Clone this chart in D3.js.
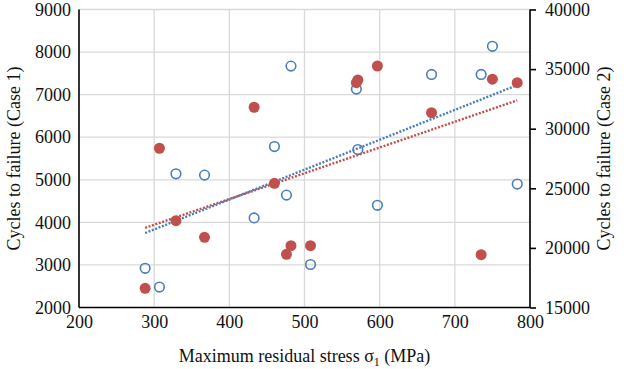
<!DOCTYPE html>
<html lang="en">
<head>
    <meta charset="UTF-8">
    <script src="https://cdn.jsdelivr.net/npm/d3@7"></script>
    <title>Cycles to failure</title>
    <style>
        body { margin: 0; background: #fff; }
        svg text { font-family: "Liberation Serif", "Times New Roman", serif !important; fill: #111; }
    </style>
</head>
<body>
<script>
    // stress values (MPa), shared by both cases
    const stress = [288, 307, 329, 367, 433, 460, 476, 482, 508, 569, 571, 597, 669, 735, 750, 783];
    // case 1 (left axis)
    const case1 = [2920, 2480, 5140, 5110, 4105, 5780, 4640, 7670, 3010, 7130, 5710, 4400, 7475, 7475, 8135, 4900];
    // case 2 (right axis)
    const case2 = [16610, 28360, 22280, 20890, 31800, 25420, 19460, 20190, 20190, 33860, 34090, 35260, 31340, 19430, 34150, 33860];

    const xTicks = [200, 300, 400, 500, 600, 700, 800];
    const yTicks1 = [2000, 3000, 4000, 5000, 6000, 7000, 8000, 9000];
    const yTicks2 = [15000, 20000, 25000, 30000, 35000, 40000];

    const width = 624, height = 369;
    const pLeft = 79, pRight = 530, pTop = 9.5, pBottom = 307.5;
    const blue = "#4a7ebb", red = "#c0504d";
    const serif = "'Liberation Serif', 'Times New Roman', serif";

    const svg = d3.select("body").append("svg")
        .attr("width", width)
        .attr("height", height)
        .style("font-family", serif);

    const x = d3.scaleLinear().domain([200, 800]).range([pLeft, pRight]);
    const y1 = d3.scaleLinear().domain([2000, 9000]).range([pBottom, pTop]);
    const y2 = d3.scaleLinear().domain([15000, 40000]).range([pBottom, pTop]);

    // grid
    svg.append("g").selectAll("line")
        .data(xTicks.slice(1))
        .enter().append("line")
        .attr("x1", d => x(d)).attr("x2", d => x(d))
        .attr("y1", pTop).attr("y2", pBottom)
        .attr("stroke", "#d9d9d9").attr("stroke-width", 1.3);
    svg.append("g").selectAll("line")
        .data(yTicks1.slice(1))
        .enter().append("line")
        .attr("x1", pLeft).attr("x2", pRight)
        .attr("y1", d => y1(d)).attr("y2", d => y1(d))
        .attr("stroke", "#d9d9d9").attr("stroke-width", 1.3);

    // axes
    const axisLeft = svg.append("g")
        .attr("transform", "translate(" + pLeft + ",0)")
        .call(d3.axisLeft(y1).tickValues(yTicks1).tickSize(0).tickPadding(8).tickFormat(d3.format("d")));
    const axisRight = svg.append("g")
        .attr("transform", "translate(" + pRight + ",0)")
        .call(d3.axisRight(y2).tickValues(yTicks2).tickSize(6).tickPadding(9).tickFormat(d3.format("d")));
    const axisBottom = svg.append("g")
        .attr("transform", "translate(0," + pBottom + ")")
        .call(d3.axisBottom(x).tickValues(xTicks).tickSize(0).tickPadding(8).tickFormat(d3.format("d")));

    [axisLeft, axisRight, axisBottom].forEach(g => {
        g.attr("font-family", null).attr("font-size", null);
        g.select(".domain").attr("stroke", "#000").attr("stroke-width", 1.6);
        g.selectAll(".tick line").attr("stroke", "#000").attr("stroke-width", 1.6);
        g.selectAll("text").style("font-size", "18px").style("font-family", serif).attr("fill", "#111");
    });
    axisLeft.select(".domain").attr("d", "M0," + pTop + "V" + pBottom);
    axisRight.select(".domain").attr("d", "M0," + pTop + "V" + pBottom);
    axisBottom.select(".domain").attr("d", "M" + pLeft + ",0H" + pRight);

    // linear trend lines
    function fit(xs, ys) {
        const mx = d3.mean(xs), my = d3.mean(ys);
        let sxy = 0, sxx = 0;
        xs.forEach((v, i) => { sxy += (v - mx) * (ys[i] - my); sxx += (v - mx) * (v - mx); });
        const b = sxy / sxx;
        return v => my + b * (v - mx);
    }
    const xExt = d3.extent(stress);
    const f1 = fit(stress, case1), f2 = fit(stress, case2);

    // blue points
    svg.append("g").selectAll("circle")
        .data(stress)
        .enter().append("circle")
        .attr("cx", d => x(d))
        .attr("cy", (d, i) => y1(case1[i]))
        .attr("r", 4.8)
        .attr("fill", "none")
        .attr("stroke", blue)
        .attr("stroke-width", 1.6);

    svg.append("line")
        .attr("x1", x(xExt[0])).attr("x2", x(xExt[1]))
        .attr("y1", y2(f2(xExt[0]))).attr("y2", y2(f2(xExt[1])))
        .attr("stroke", red).attr("stroke-width", 2.4)
        .attr("stroke-dasharray", "2,1.6");
    svg.append("line")
        .attr("x1", x(xExt[0])).attr("x2", x(xExt[1]))
        .attr("y1", y1(f1(xExt[0]))).attr("y2", y1(f1(xExt[1])))
        .attr("stroke", blue).attr("stroke-width", 2.4)
        .attr("stroke-dasharray", "2,1.6");

    // red points
    svg.append("g").selectAll("circle")
        .data(stress)
        .enter().append("circle")
        .attr("cx", d => x(d))
        .attr("cy", (d, i) => y2(case2[i]))
        .attr("r", 5.5)
        .attr("fill", red);

    // titles
    const xt = svg.append("text")
        .attr("x", (pLeft + pRight) / 2)
        .attr("y", 362)
        .attr("text-anchor", "middle")
        .style("font-size", "18px");
    xt.append("tspan").text("Maximum residual stress σ");
    xt.append("tspan").style("font-size", "12px").attr("dy", 4).text("1");
    xt.append("tspan").attr("dy", -4).text(" (MPa)");

    svg.append("text")
        .attr("transform", "translate(20," + ((pTop + pBottom) / 2) + ") rotate(-90)")
        .attr("text-anchor", "middle")
        .style("font-size", "18px")
        .text("Cycles to failure (Case 1)");

    svg.append("text")
        .attr("transform", "translate(610," + ((pTop + pBottom) / 2) + ") rotate(-90)")
        .attr("text-anchor", "middle")
        .style("font-size", "18px")
        .text("Cycles to failure (Case 2)");
</script>
</body>
</html>
